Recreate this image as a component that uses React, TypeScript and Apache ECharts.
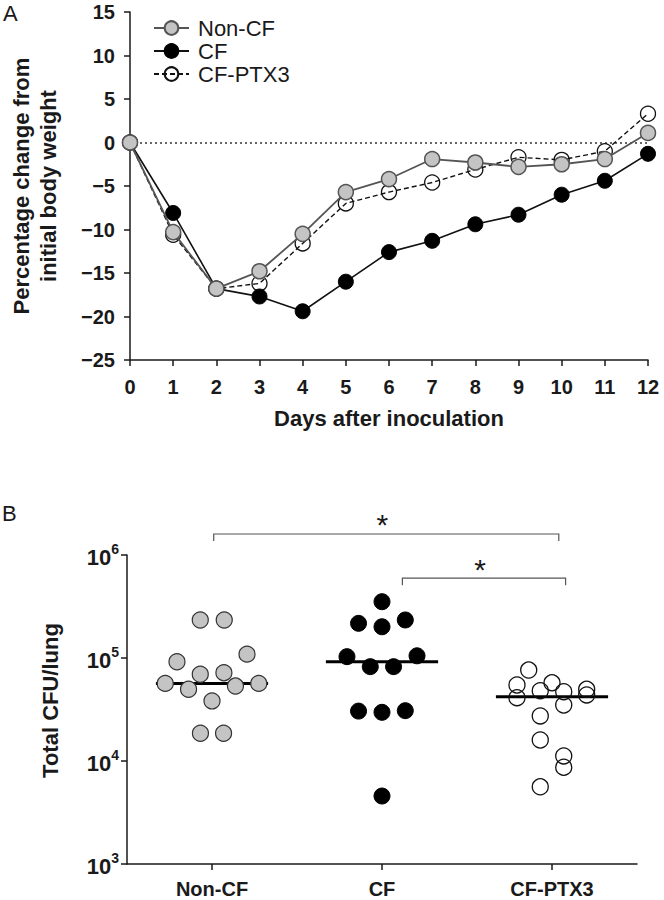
import React, { useEffect, useRef } from "react";
import * as echarts from "echarts";

// ---------- Panel A: body weight ----------
const days = [0, 1, 2, 3, 4, 5, 6, 7, 8, 9, 10, 11, 12];
const nonCFWeight = [0, -10.3, -16.8, -14.8, -10.5, -5.7, -4.2, -1.9, -2.3, -2.8, -2.5, -1.9, 1.1];
const cfWeight = [0, -8.1, -16.8, -17.7, -19.4, -16.0, -12.6, -11.3, -9.4, -8.3, -6.0, -4.4, -1.3];
const ptx3Weight = [0, -10.6, -16.8, -16.2, -11.6, -7.0, -5.7, -4.6, -3.1, -1.7, -2.0, -1.0, 3.3];

// ---------- Panel B: CFU per lung ----------
const groups = ["Non-CF", "CF", "CF-PTX3"];
const nonCFCfu = [234000, 234000, 92000, 109000, 69500, 72000, 56700, 49700, 53400, 56700, 38300, 18600, 18600];
const nonCFJitter = [-0.069, 0.072, -0.206, 0.206, -0.069, 0.07, -0.275, -0.138, 0.138, 0.275, 0, -0.068, 0.068];
const cfCfu = [352000, 217000, 201000, 234000, 103000, 82400, 82400, 105000, 30500, 29700, 30800, 4570];
const cfJitter = [0, -0.138, 0, 0.137, -0.206, -0.069, 0.068, 0.206, -0.138, 0, 0.137, 0];
const ptx3Cfu = [76400, 54700, 57500, 48200, 47100, 49700, 41200, 43800, 35000, 27400, 16000, 11200, 8700, 5620];
const ptx3Jitter = [-0.137, -0.206, 0, -0.069, 0.069, 0.204, -0.206, 0.204, 0.069, -0.069, -0.069, 0.069, 0.069, -0.069];
const medians = [56700, 92000, 42100];

// significance brackets (category units / data level)
const bracketStart = [0.01, 1.12];
const bracketEnd = [2.04, 2.08];
const bracketLevel = [1600000, 595000];
const bracketLabel = ["*", "*"];

const FONT = "'Liberation Sans', Arial, Helvetica, sans-serif";
const INK = "#1a1a1a";

function buildOption(): any {
  const axisLine = { show: true, onZero: false, lineStyle: { color: INK, width: 1.5 } };
  const axisTick = { show: true, inside: false, length: 6, lineStyle: { color: INK, width: 1.5 } };
  const tickFont = { fontSize: 20, fontWeight: "bold", color: INK, fontFamily: FONT };
  const nameFont = { fontSize: 22, fontWeight: "bold", color: INK, fontFamily: FONT };

  return {
    animation: false,
    textStyle: { fontFamily: FONT },
    graphic: [
      { type: "text", left: 3, top: 2, style: { text: "A", fontSize: 22, fontFamily: FONT, fill: INK } },
      { type: "text", left: 2, top: 502, style: { text: "B", fontSize: 22, fontFamily: FONT, fill: INK } },
    ],
    legend: {
      data: ["Non-CF", "CF", "CF-PTX3"],
      orient: "vertical",
      left: 148,
      top: 12,
      itemWidth: 35,
      itemHeight: 17,
      itemGap: 1,
      textStyle: { fontSize: 22, fontFamily: FONT, color: INK, lineHeight: 22, padding: [0, 0, 0, 4] },
    },
    grid: [
      { left: 127, width: 521, top: 12, height: 348 },
      { left: 127, width: 510, top: 555, height: 309 },
    ],
    xAxis: [
      {
        gridIndex: 0,
        type: "value",
        min: 0,
        max: 12,
        interval: 1,
        axisLine,
        axisTick,
        splitLine: { show: false },
        axisLabel: { ...tickFont, margin: 17 },
        name: "Days after inoculation",
        nameLocation: "middle",
        nameGap: 47,
        nameTextStyle: nameFont,
      },
      {
        gridIndex: 1,
        type: "category",
        data: groups,
        boundaryGap: true,
        axisLine,
        axisTick: { ...axisTick, alignWithLabel: true },
        axisLabel: { ...tickFont, margin: 15 },
      },
      {
        gridIndex: 1,
        type: "value",
        min: -0.5,
        max: 2.5,
        show: false,
      },
    ],
    yAxis: [
      {
        gridIndex: 0,
        type: "value",
        min: -25,
        max: 15,
        interval: 5,
        axisLine,
        axisTick,
        splitLine: { show: false },
        axisLabel: {
          ...tickFont,
          margin: 15,
          formatter: (v: number) => (v < 0 ? "\u2212" + Math.abs(v) : String(v)),
        },
        name: "Percentage change from\ninitial body weight",
        nameLocation: "middle",
        nameGap: 68,
        nameTextStyle: { ...nameFont, lineHeight: 27 },
      },
      {
        gridIndex: 1,
        type: "log",
        logBase: 10,
        min: 1000,
        max: 1000000,
        splitNumber: 3,
        axisLine,
        axisTick,
        splitLine: { show: false },
        minorTick: { show: false },
        axisLabel: {
          margin: 8,
          formatter: (v: number) => "{b|10}{s|" + Math.round(Math.log10(v)) + "}",
          rich: {
            b: { fontSize: 22, fontWeight: "bold", color: INK, fontFamily: FONT, lineHeight: 26, verticalAlign: "bottom" },
            s: { fontSize: 14, fontWeight: "bold", color: INK, fontFamily: FONT, lineHeight: 15, verticalAlign: "top" },
          },
        },
        name: "Total CFU/lung",
        nameLocation: "middle",
        nameGap: 66,
        nameTextStyle: { ...nameFont, padding: [0, 0, 0, 18] },
      },
    ],
    series: [
      {
        name: "CF-PTX3",
        type: "line",
        xAxisIndex: 0,
        yAxisIndex: 0,
        data: days.map((d, i) => [d, ptx3Weight[i]]),
        symbol: "circle",
        symbolSize: 15,
        itemStyle: { color: "rgba(255,255,255,0)", borderColor: "#111", borderWidth: 1.3 },
        lineStyle: { color: "#111", width: 1.4, type: [5, 3] },
        z: 2,
      },
      {
        name: "CF",
        type: "line",
        xAxisIndex: 0,
        yAxisIndex: 0,
        data: days.map((d, i) => [d, cfWeight[i]]),
        symbol: "circle",
        symbolSize: 15,
        itemStyle: { color: "#000", borderColor: "#000", borderWidth: 1 },
        lineStyle: { color: "#111", width: 1.6 },
        z: 3,
      },
      {
        name: "Non-CF",
        type: "line",
        xAxisIndex: 0,
        yAxisIndex: 0,
        data: days.map((d, i) => [d, nonCFWeight[i]]),
        symbol: "circle",
        symbolSize: 15,
        itemStyle: { color: "#c4c4c4", borderColor: "#555", borderWidth: 1.5 },
        lineStyle: { color: "#555", width: 1.8 },
        z: 4,
        markLine: {
          silent: true,
          symbol: ["none", "none"],
          label: { show: false },
          lineStyle: { color: "#333", width: 1.5, type: [2, 3] },
          data: [{ yAxis: 0 }],
          z: 1,
        },
      },
      {
        name: "median",
        type: "custom",
        xAxisIndex: 2,
        yAxisIndex: 1,
        data: medians.map((m, i) => [i, m]),
        z: 1,
        renderItem: (params: any, api: any) => {
          const x = api.value(0);
          const m = api.value(1);
          const a = api.coord([x - 0.33, m]);
          const b = api.coord([x + 0.33, m]);
          return {
            type: "line",
            shape: { x1: a[0], y1: a[1], x2: b[0], y2: b[1] },
            style: { stroke: "#000", lineWidth: 3 },
          };
        },
      },
      {
        name: "Non-CF CFU",
        type: "scatter",
        xAxisIndex: 2,
        yAxisIndex: 1,
        data: nonCFCfu.map((v, i) => [0 + nonCFJitter[i], v]),
        symbol: "circle",
        symbolSize: 16,
        itemStyle: { color: "#c4c4c4", borderColor: "#333", borderWidth: 1.2, opacity: 1 },
        z: 3,
      },
      {
        name: "CF CFU",
        type: "scatter",
        xAxisIndex: 2,
        yAxisIndex: 1,
        data: cfCfu.map((v, i) => [1 + cfJitter[i], v]),
        symbol: "circle",
        symbolSize: 16,
        itemStyle: { color: "#000", borderColor: "#000", borderWidth: 1, opacity: 1 },
        z: 3,
      },
      {
        name: "CF-PTX3 CFU",
        type: "scatter",
        xAxisIndex: 2,
        yAxisIndex: 1,
        data: ptx3Cfu.map((v, i) => [2 + ptx3Jitter[i], v]),
        symbol: "circle",
        symbolSize: 16,
        itemStyle: { color: "rgba(255,255,255,0)", borderColor: "#111", borderWidth: 1.3, opacity: 1 },
        z: 3,
      },
      {
        name: "brackets",
        type: "custom",
        xAxisIndex: 2,
        yAxisIndex: 1,
        clip: false,
        data: bracketLevel.map((lvl, i) => [bracketStart[i], lvl, bracketEnd[i]]),
        renderItem: (params: any, api: any) => {
          const i = params.dataIndex;
          const lvl = api.value(1);
          const p1 = api.coord([api.value(0), lvl]);
          const p2 = api.coord([api.value(2), lvl]);
          const drop = 7;
          return {
            type: "group",
            children: [
              {
                type: "polyline",
                shape: {
                  points: [
                    [p1[0], p1[1] + drop],
                    [p1[0], p1[1]],
                    [p2[0], p2[1]],
                    [p2[0], p2[1] + drop],
                  ],
                },
                style: { stroke: "#555", lineWidth: 1.2, fill: "none" },
              },
              {
                type: "text",
                x: (p1[0] + p2[0]) / 2 - 4,
                y: p1[1] - 9,
                style: {
                  text: bracketLabel[i],
                  fontSize: 30,
                  fontFamily: FONT,
                  fill: INK,
                  align: "center",
                  verticalAlign: "middle",
                },
              },
            ],
          };
        },
      },
    ],
  };
}

export default function App() {
  const ref = useRef<HTMLDivElement>(null);
  useEffect(() => {
    document.body.style.margin = "0";
    const chart = echarts.init(ref.current as HTMLDivElement, null, { renderer: "svg" });
    chart.setOption(buildOption());
    return () => chart.dispose();
  }, []);
  return <div ref={ref} style={{ width: 664, height: 900 }} />;
}
